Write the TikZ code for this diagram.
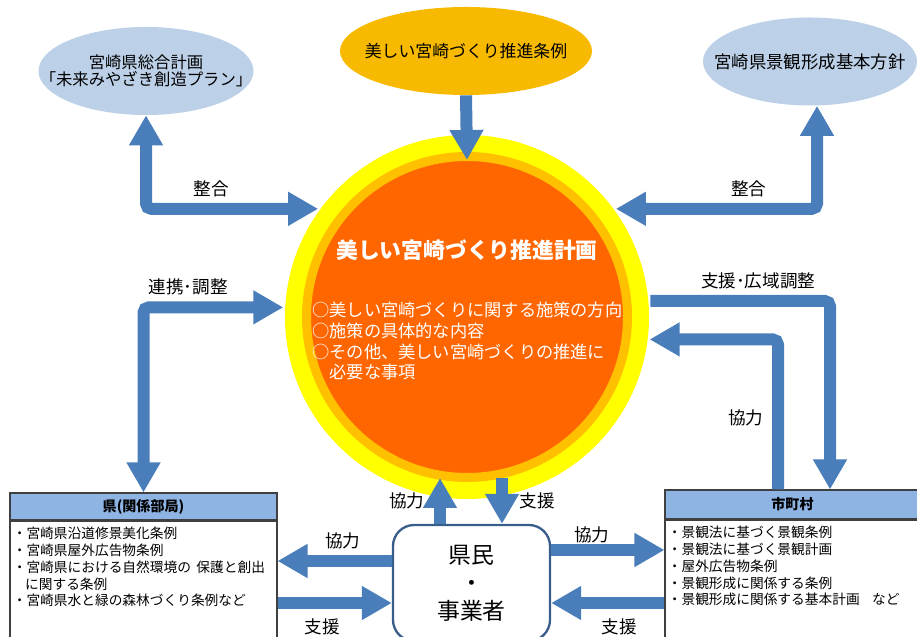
\documentclass[tikz,border=0pt]{standalone}
\usepackage{fontspec}
\setmainfont{Noto Sans CJK JP}
\usetikzlibrary{positioning,arrows.meta,shapes.geometric}
\definecolor{arrowc}{RGB}{74,126,187}
\definecolor{planc}{RGB}{255,102,0}
\definecolor{ringc}{RGB}{255,192,0}
\definecolor{glowc}{RGB}{255,255,0}
\definecolor{lawc}{RGB}{248,186,0}
\definecolor{ovalc}{RGB}{188,208,232}
\definecolor{headc}{RGB}{142,180,227}
\definecolor{framec}{RGB}{56,93,138}

\begin{document}
\begin{tikzpicture}[
  >={Triangle[length=0.6cm,width=0.64cm]},
  font=\fontsize{10}{12}\selectfont,
  arr/.style={->, line width=0.24cm, draw=arrowc, rounded corners=3pt},
  darr/.style={arr, <->},
  oval/.style 2 args={ellipse, fill=#1, minimum width=#2, minimum height=1.76cm,
    inner xsep=-0.7cm, align=center},
  head/.style={rectangle, draw=black!75, fill=headc, line width=0.6pt,
    font=\fontsize{8}{9}\selectfont\bfseries},
  body/.style={rectangle, draw=black!75, fill=white, line width=0.6pt},
  list/.style={anchor=north west, align=left, inner sep=0pt,
    font=\fontsize{7.8}{9.6}\selectfont},
  people/.style={rectangle, rounded corners=12pt, draw=framec, line width=1.3pt,
    fill=white, align=center, font=\fontsize{13}{16}\selectfont},
]
\useasboundingbox (0,0) rectangle (18.34,12.74);

% ---- top: ordinance and related plans ----
\node[oval={ovalc}{4.3cm}, font=\fontsize{9.3}{10}\selectfont] (sogo) at (2.92,11.32)
  {宮崎県総合計画\\「未来みやざき創造プラン」};
\node[oval={lawc}{5.04cm}, font=\fontsize{9.6}{11}\selectfont] (jorei) at (9.32,11.72)
  {美しい宮崎づくり推進条例};
\node[oval={ovalc}{4.28cm}, font=\fontsize{9.9}{11}\selectfont] (hoshin) at (16.2,11.51)
  {宮崎県景観形成基本方針};

% ---- centre: the plan ----
\node[circle, minimum size=6.42cm, inner sep=0pt, outer sep=0.47cm,
  fill=planc, draw=ringc, line width=0.18cm,
  preaction={draw=glowc, line width=0.86cm}] (keikaku) at (9.34,6.40) {};
\node[text=white, font=\fontsize{12.4}{14}\selectfont\bfseries] (ktitle) at (9.34,7.74)
  {美しい宮崎づくり推進計画};
\node[text=white, anchor=west, align=left, inner sep=0pt,
  font=\fontsize{9.8}{11.9}\selectfont] (kitems) at (6.24,5.92)
  {○美しい宮崎づくりに関する施策の方向\\
   ○施策の具体的な内容\\
   ○その他、美しい宮崎づくりの推進に\\
   \hspace*{1em}必要な事項};
\coordinate (kbottom) at ([yshift=0.46cm]keikaku.south);

% ---- bottom: prefecture, residents, municipalities ----
\node[head, minimum width=5.34cm, minimum height=0.54cm] (kenh) at (2.87,2.61) {県(関係部局)};
\node[body, minimum width=5.34cm, minimum height=2.6cm, below=0pt of kenh] (kenb) {};
\node[list] (kenl) at ([xshift=0.06cm,yshift=-0.12cm]kenb.north west)
  {・宮崎県沿道修景美化条例\\
   ・宮崎県屋外広告物条例\\
   ・宮崎県における自然環境の\hspace{0.4em}保護と創出\\
   \hspace*{0.9em}に関する条例\\
   ・宮崎県水と緑の森林づくり条例など};

\node[head, minimum width=5.1cm, minimum height=0.58cm] (shih) at (15.85,2.65) {市町村};
\node[body, minimum width=5.1cm, minimum height=2.6cm, below=0pt of shih] (shib) {};
\node[list] (shil) at ([xshift=0.06cm,yshift=-0.12cm]shib.north west)
  {・景観法に基づく景観条例\\
   ・景観法に基づく景観計画\\
   ・屋外広告物条例\\
   ・景観形成に関係する条例\\
   ・景観形成に関係する基本計画\hspace{0.9em}など};

\node[people, minimum width=3.14cm, minimum height=2.32cm] (kenmin) at (9.43,1.08)
  {県民\\・\\事業者};

% ---- arrows: top ----
\draw[arr] (jorei.south) -- ([yshift=-0.54cm]keikaku.north);
\draw[darr] (sogo.south) |- (keikaku.144)
  node[pos=0.69, above=0cm] {整合};
\draw[darr] ([xshift=0.14cm]hoshin.south) |- (keikaku.36)
  node[pos=0.67, above=0cm] {整合};

% ---- arrows: sides ----
\draw[darr] (kenh.north) |- (keikaku.177)
  node[pos=0.66, above=0cm] {連携･調整};
\draw[arr] (keikaku.5) -| ([xshift=0.75cm]shih.north)
  node[pos=0.3, above=0cm] {支援･広域調整};
\draw[arr] ([xshift=-0.29cm]shih.north) |- (keikaku.-7)
  node[pos=0.24, left=0.06cm] {協力};

% ---- arrows: residents ----
\draw[arr] ([xshift=-0.63cm]kenmin.north) -- ([xshift=-0.63cm]kenmin.north |- kbottom)
  node[midway, left=0.08cm] {協力};
\draw[arr] ([xshift=0.61cm]kenmin.north |- kbottom) -- ([xshift=0.61cm]kenmin.north)
  node[midway, right=0.12cm] {支援};
\draw[arr] ([yshift=0.44cm]kenmin.west) -- ([yshift=0.44cm]kenmin.west -| kenb.east)
  node[pos=0.43, above=0cm] {協力};
\draw[arr] ([yshift=-0.4cm]kenmin.west -| kenb.east) -- ([yshift=-0.4cm]kenmin.west)
  node[pos=0.39, below=0.08cm] {支援};
\draw[arr] ([yshift=0.66cm]kenmin.east) -- ([yshift=0.66cm]kenmin.east -| shib.west)
  node[pos=0.36, above=-0.1cm] {協力};
\draw[arr] ([yshift=-0.4cm]kenmin.east -| shib.west) -- ([yshift=-0.4cm]kenmin.east)
  node[pos=0.4, below=0.08cm] {支援};

\end{tikzpicture}
\end{document}
